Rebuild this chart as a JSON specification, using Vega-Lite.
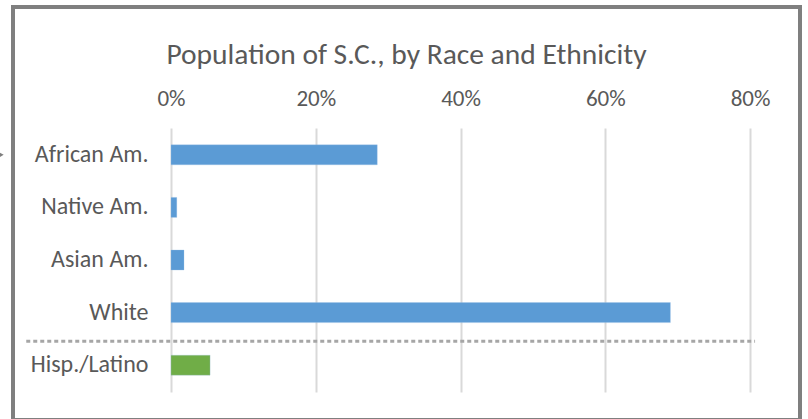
{
  "$schema": "https://vega.github.io/schema/vega-lite/v6.json",
  "width": 787,
  "height": 413,
  "autosize": {"type": "none"},
  "padding": {"left": 13, "top": 7, "right": 8, "bottom": 0},
  "background": "white",
  "config": {
    "view": {"stroke": "#7f7f7f", "strokeWidth": 4},
    "font": "Carlito, Calibri, Lato"
  },
  "title": {
    "text": "Population of S.C., by Race and Ethnicity",
    "orient": "top",
    "anchor": "middle",
    "baseline": "alphabetic",
    "offset": -86,
    "font": "Carlito, Calibri, Lato",
    "fontSize": 29.5,
    "fontWeight": "normal",
    "color": "#595959"
  },
  "datasets": {
    "pop": [
      {"group": "African Am.", "kind": "Race", "share": 0.285},
      {"group": "Native Am.", "kind": "Race", "share": 0.008},
      {"group": "Asian Am.", "kind": "Race", "share": 0.018},
      {"group": "White", "kind": "Race", "share": 0.69},
      {"group": "Hisp./Latino", "kind": "Ethnicity", "share": 0.054}
    ],
    "separator": [
      {"group": "White", "from": -0.2, "to": 0.807}
    ],
    "pointer": [
      {"group": "African Am.", "at": -0.234}
    ]
  },
  "layer": [
    {
      "data": {"name": "pop"},
      "mark": {"type": "bar", "stroke": "#9dc3e6", "strokeWidth": 0.5, "strokeOpacity": 0.6},
      "encoding": {
        "y": {
          "field": "group",
          "type": "nominal",
          "sort": null,
          "scale": {"domain": ["African Am.", "Native Am.", "Asian Am.", "White", "Hisp./Latino"], "range": [121, 385], "paddingInner": 0.62, "paddingOuter": 0.32},
          "axis": {
            "title": null,
            "orient": "left",
            "offset": -135,
            "domain": false,
            "ticks": false,
            "tickSize": 0,
            "labelPadding": 0,
            "labelFontSize": 24,
            "labelColor": "#595959",
            "labelFont": "Carlito, Calibri, Lato",
            "grid": false
          }
        },
        "x": {
          "field": "share",
          "type": "quantitative",
          "scale": {"domain": [0, 0.8], "range": [158, 737], "nice": false},
          "axis": {
            "title": null,
            "orient": "top",
            "offset": -98,
            "format": ".0%",
            "values": [0, 0.2, 0.4, 0.6, 0.8],
            "domain": false,
            "ticks": false,
            "tickSize": 0,
            "labelPadding": 0,
            "labelFlush": false,
            "labelAlign": "center",
            "labelBaseline": "alphabetic",
            "labelFontSize": 23,
            "labelColor": "#595959",
            "labelFont": "Carlito, Calibri, Lato",
            "grid": true,
            "gridColor": "#d9d9d9",
            "gridWidth": 2
          }
        },
        "color": {
          "field": "kind",
          "type": "nominal",
          "scale": {"domain": ["Race", "Ethnicity"], "range": ["#5b9bd5", "#70ad47"]},
          "legend": null
        }
      }
    },
    {
      "data": {"name": "separator"},
      "mark": {"type": "rule", "color": "#a6a6a6", "strokeWidth": 3, "strokeDash": [4, 3]},
      "encoding": {
        "y": {"field": "group", "type": "nominal", "sort": null, "bandPosition": 1.93},
        "x": {"field": "from", "type": "quantitative"},
        "x2": {"field": "to"}
      }
    },
    {
      "data": {"name": "pointer"},
      "mark": {"type": "point", "shape": "triangle-right", "filled": true, "color": "#7f7f7f", "size": 22, "opacity": 1},
      "encoding": {
        "y": {"field": "group", "type": "nominal", "sort": null},
        "x": {"field": "at", "type": "quantitative"}
      }
    }
  ]
}
